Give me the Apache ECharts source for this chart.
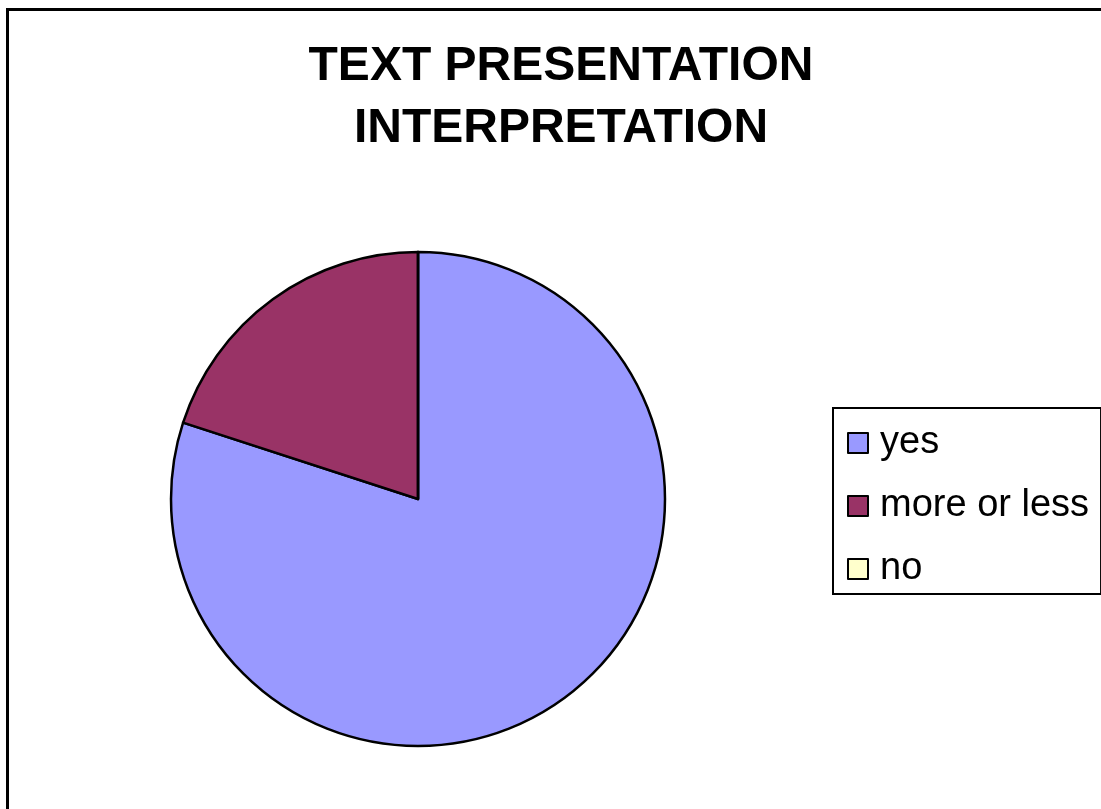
<!DOCTYPE html>
<html>
<head>
<meta charset="utf-8">
<script src="https://cdn.jsdelivr.net/npm/echarts@6/dist/echarts.min.js"></script>
<style>
html,body{margin:0;padding:0;background:#fff;}
#chart{width:1101px;height:809px;}
</style>
</head>
<body>
<div id="chart"></div>
<script>
const titleText = 'TEXT PRESENTATION\nINTERPRETATION';
const categories = ['yes', 'more or less', 'no'];
const values = [80, 20, 0];
const colors = ['#9999FF', '#993366', '#FFFFCC'];

const chart = echarts.init(document.getElementById('chart'), null, {renderer: 'canvas'});
const option = {
  backgroundColor: '#ffffff',
  animation: false,
  title: {
    text: titleText,
    left: 561,
    top: 36,
    textAlign: 'center',
    padding: 0,
    textStyle: {
      fontFamily: 'Liberation Sans, Arial, sans-serif',
      fontWeight: 'bold',
      fontSize: 48,
      lineHeight: 62,
      color: '#000'
    }
  },
  legend: {
    orient: 'vertical',
    left: 833,
    top: 408,
    padding: [16, 12, 6, 14],
    itemWidth: 20,
    itemHeight: 20,
    itemGap: 25,
    icon: 'rect',
    borderColor: '#000',
    borderWidth: 2,
    backgroundColor: '#fff',
    itemStyle: {borderColor: '#000', borderWidth: 2},
    textStyle: {
      fontFamily: 'Liberation Sans, Arial, sans-serif',
      fontSize: 38,
      color: '#000',
      padding: [0, 0, 0, 7]
    },
    data: categories
  },
  graphic: [{
    type: 'rect',
    shape: {x: 7.5, y: 9.5, width: 1200, height: 1000},
    style: {fill: 'none', stroke: '#000', lineWidth: 3},
    silent: true
  }],
  series: [{
    type: 'pie',
    center: [418, 499],
    radius: [0, 247],
    startAngle: 90,
    clockwise: true,
    label: {show: false},
    labelLine: {show: false},
    emphasis: {disabled: true},
    avoidLabelOverlap: false,
    stillShowZeroSum: true,
    minAngle: 0,
    itemStyle: {borderColor: '#000', borderWidth: 2.5},
    data: categories.map((c, i) => ({name: c, value: values[i], itemStyle: {color: colors[i]}}))
  }]
};
chart.setOption(option);
</script>
</body>
</html>
